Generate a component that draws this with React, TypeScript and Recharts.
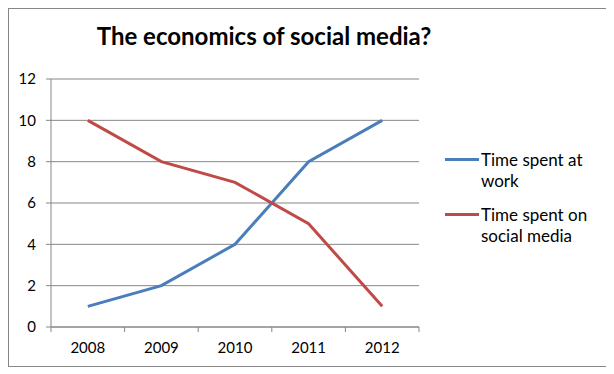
import React from "react";
import { LineChart, Line, XAxis, YAxis, CartesianGrid, Legend } from "recharts";

const years = ["2008", "2009", "2010", "2011", "2012"];
const timeAtWork = [1, 2, 4, 8, 10];
const timeOnSocial = [10, 8, 7, 5, 1];
const yTicks = [0, 2, 4, 6, 8, 10, 12];

const data = years.map((year, i) => ({
  year,
  work: timeAtWork[i],
  social: timeOnSocial[i],
}));

const FONT = "Lato, 'Open Sans', sans-serif";
const AXIS_COLOR = "#868686";
const TICK_SIZE = 5;
const TICK_MARGIN = 10;
const LEGEND_WIDTH = 160;

const XTick = (props: any) => {
  const { x, y, payload, index, width, visibleTicksCount } = props;
  const bw = width / visibleTicksCount;
  const axisY = y - TICK_SIZE - TICK_MARGIN;
  const left = x - bw / 2;
  return (
    <g>
      <line x1={left} x2={left} y1={axisY} y2={axisY + TICK_SIZE} stroke={AXIS_COLOR} />
      {index === visibleTicksCount - 1 && (
        <line x1={x + bw / 2} x2={x + bw / 2} y1={axisY} y2={axisY + TICK_SIZE} stroke={AXIS_COLOR} />
      )}
      <text x={x} y={y} dy="0.71em" textAnchor="middle" fill="#000" fontSize={15} fontFamily={FONT}>
        {payload.value}
      </text>
    </g>
  );
};

const LegendContent = (props: any) => {
  const { payload } = props;
  return (
    <div style={{ fontFamily: FONT, fontSize: 17, color: "#000" }}>
      {(payload || []).map((p: any, i: number) => (
        <div key={i} style={{ display: "flex", alignItems: "flex-start", marginBottom: 13 }}>
          <div style={{ width: 34, height: 3, background: p.color, marginTop: 9, marginRight: 2, flex: "none" }} />
          <div style={{ width: 118, lineHeight: "21px" }}>{p.value}</div>
        </div>
      ))}
    </div>
  );
};

export default function App() {
  return (
    <div
      style={{
        position: "relative",
        width: 600,
        height: 359,
        border: "1px solid #868686",
        boxSizing: "border-box",
        background: "#fff",
      }}
    >
      <div
        style={{
          position: "absolute",
          left: 0,
          top: 12,
          width: 510,
          textAlign: "center",
          fontFamily: FONT,
          fontWeight: "bold",
          fontSize: 24,
          color: "#000",
        }}
      >
        The economics of social media?
      </div>
      <LineChart
        width={598}
        height={357}
        data={data}
        margin={{ top: 70, right: 188 - LEGEND_WIDTH, bottom: 9, left: 0 }}
      >
        <CartesianGrid vertical={false} stroke={AXIS_COLOR} strokeWidth={1} />
        <XAxis
          dataKey="year"
          scale="band"
          height={30}
          tickLine={false}
          tickSize={TICK_SIZE}
          tickMargin={TICK_MARGIN}
          axisLine={{ stroke: AXIS_COLOR }}
          tick={<XTick />}
          interval={0}
        />
        <YAxis
          width={42}
          domain={[0, 12]}
          ticks={yTicks}
          interval={0}
          tickSize={TICK_SIZE}
          tickMargin={TICK_MARGIN}
          axisLine={{ stroke: AXIS_COLOR }}
          tickLine={{ stroke: AXIS_COLOR }}
          tick={{ fill: "#000", fontSize: 15, fontFamily: FONT }}
        />
        <Legend
          layout="vertical"
          align="right"
          verticalAlign="top"
          content={<LegendContent />}
          wrapperStyle={{ left: 436, top: 140, width: LEGEND_WIDTH }}
        />
        <Line
          type="linear"
          dataKey="work"
          name="Time spent at work"
          stroke="#4A7EBB"
          strokeWidth={3}
          dot={false}
          isAnimationActive={false}
        />
        <Line
          type="linear"
          dataKey="social"
          name="Time spent on social media"
          stroke="#BE4B48"
          strokeWidth={3}
          dot={false}
          isAnimationActive={false}
        />
      </LineChart>
    </div>
  );
}
